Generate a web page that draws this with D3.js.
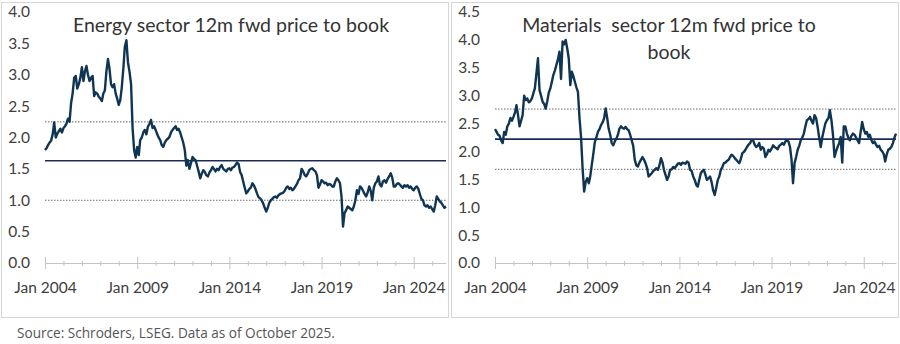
<!DOCTYPE html>
<html>
<head>
<meta charset="utf-8">
<script src="https://cdn.jsdelivr.net/npm/d3@7"></script>
<style>
  body { margin: 0; background: #fff; }
  svg { display: block; }
</style>
</head>
<body>
<script>
// monthly values, Jan 2004 onwards
const startYear = 2004;

const energyPB = [
  1.80, 1.83, 1.88, 1.92, 1.95, 2.05, 2.24, 2.00, 2.06, 2.10, 2.14, 2.08,
  2.15, 2.18, 2.22, 2.30, 2.25, 2.55, 2.70, 2.95, 2.98, 2.78, 2.85, 2.95,
  3.12, 2.90, 3.05, 3.14, 3.00, 2.90, 2.95, 2.98, 2.66, 2.72, 2.70, 2.65,
  2.62, 2.58, 2.70, 2.75, 3.05, 3.25, 3.10, 2.85, 2.80, 2.85, 2.70, 2.62,
  2.52, 2.60, 2.80, 3.10, 3.45, 3.55, 3.20, 3.05, 2.85, 2.15, 1.80, 1.68,
  1.85, 1.72, 1.96, 2.00, 2.08, 2.12, 2.05, 2.17, 2.22, 2.28, 2.15, 2.18,
  2.12, 2.05, 2.00, 1.96, 1.88, 1.85, 1.92, 1.96, 1.98, 2.01, 2.08, 2.12,
  2.15, 2.18, 2.12, 2.14, 2.08, 2.00, 1.92, 1.80, 1.55, 1.64, 1.50, 1.59,
  1.69, 1.66, 1.64, 1.55, 1.46, 1.35, 1.42, 1.48, 1.45, 1.40, 1.38, 1.44,
  1.48, 1.53, 1.50, 1.46, 1.50, 1.48, 1.53, 1.56, 1.50, 1.48, 1.46, 1.50,
  1.51, 1.48, 1.52, 1.53, 1.56, 1.60, 1.58, 1.45, 1.40, 1.30, 1.20, 1.11,
  1.14, 1.18, 1.20, 1.27, 1.24, 1.18, 1.11, 1.05, 1.03, 1.00, 0.95, 0.88,
  0.82, 0.88, 0.96, 1.00, 1.02, 1.05, 1.06, 1.04, 1.08, 1.10, 1.11, 1.12,
  1.15, 1.20, 1.22, 1.18, 1.20, 1.16, 1.18, 1.22, 1.26, 1.32, 1.35, 1.50,
  1.46, 1.40, 1.38, 1.42, 1.48, 1.50, 1.51, 1.48, 1.46, 1.40, 1.20, 1.25,
  1.32, 1.30, 1.27, 1.28, 1.24, 1.26, 1.25, 1.22, 1.22, 1.30, 1.35, 1.32,
  1.27, 1.05, 0.58, 0.80, 0.84, 0.90, 0.88, 0.86, 0.84, 0.90, 1.00, 1.16,
  1.10, 1.22, 1.20, 1.15, 1.10, 1.06, 1.12, 1.22, 1.15, 1.00, 1.20, 1.27,
  1.30, 1.38, 1.25, 1.22, 1.30, 1.32, 1.28, 1.34, 1.38, 1.43, 1.36, 1.22,
  1.22, 1.26, 1.27, 1.25, 1.22, 1.20, 1.24, 1.22, 1.24, 1.20, 1.22, 1.18,
  1.16, 1.20, 1.22, 1.18, 1.10, 1.02, 1.00, 0.92, 0.90, 0.92, 0.88, 0.90,
  0.86, 0.82, 0.92, 1.06, 1.02, 0.98, 0.96, 0.92, 0.88, 0.90
];

const materialsPB = [
  2.40, 2.35, 2.30, 2.28, 2.20, 2.15, 2.35, 2.30, 2.45, 2.50, 2.60, 2.55,
  2.62, 2.70, 2.83, 2.65, 2.45, 2.55, 2.65, 3.00, 2.92, 2.95, 2.88, 2.90,
  2.95, 3.05, 3.13, 3.40, 3.67, 3.10, 3.00, 2.89, 2.85, 2.77, 2.90, 3.05,
  3.13, 3.25, 3.37, 3.45, 3.55, 3.65, 3.79, 3.30, 3.97, 3.92, 4.00, 3.85,
  3.67, 3.19, 3.43, 3.35, 3.25, 3.15, 3.07, 2.60, 2.25, 1.70, 1.28, 1.45,
  1.52, 1.43, 1.55, 1.76, 1.95, 2.17, 2.25, 2.35, 2.40, 2.47, 2.52, 2.59,
  2.77, 2.60, 2.41, 2.30, 2.15, 2.11, 2.18, 2.23, 2.30, 2.41, 2.45, 2.42,
  2.41, 2.44, 2.40, 2.38, 2.30, 2.20, 2.10, 1.85, 1.75, 1.73, 1.80, 1.85,
  1.90, 1.85, 1.79, 1.70, 1.55, 1.58, 1.61, 1.65, 1.67, 1.70, 1.67, 1.75,
  1.88, 1.80, 1.67, 1.58, 1.49, 1.55, 1.67, 1.68, 1.72, 1.70, 1.74, 1.78,
  1.79, 1.76, 1.80, 1.79, 1.78, 1.82, 1.80, 1.67, 1.65, 1.55, 1.49, 1.40,
  1.37, 1.50, 1.61, 1.65, 1.67, 1.58, 1.49, 1.52, 1.55, 1.45, 1.30, 1.22,
  1.35, 1.49, 1.55, 1.67, 1.72, 1.79, 1.80, 1.83, 1.85, 1.90, 1.94, 1.92,
  1.88, 1.85, 1.82, 1.79, 1.86, 1.97, 1.99, 2.03, 2.08, 2.12, 2.15, 2.20,
  2.20, 2.12, 2.08, 2.10, 2.15, 2.03, 2.08, 2.05, 1.90, 1.95, 2.03, 2.00,
  2.05, 2.11, 2.08, 2.06, 2.04, 2.10, 2.12, 2.15, 2.12, 2.18, 2.20, 2.18,
  2.08, 1.85, 1.43, 1.79, 1.90, 2.03, 2.10, 2.20, 2.25, 2.32, 2.45, 2.56,
  2.58, 2.62, 2.55, 2.50, 2.65, 2.60, 2.44, 2.25, 2.08, 2.25, 2.38, 2.50,
  2.56, 2.60, 2.74, 2.56, 2.30, 1.90, 2.00, 2.08, 2.15, 2.26, 1.80, 2.45,
  2.45, 2.32, 2.25, 2.20, 2.28, 2.32, 2.30, 2.25, 2.20, 2.15, 2.35, 2.53,
  2.40, 2.32, 2.35, 2.26, 2.30, 2.20, 2.15, 2.18, 2.12, 2.08, 2.10, 2.03,
  2.00, 1.95, 1.82, 1.95, 2.03, 2.05, 2.08, 2.15, 2.25, 2.32
];

// [-1 sd, average, +1 sd]
const energyBands = [1.0, 1.63, 2.25];
const materialsBands = [1.68, 2.22, 2.76];

const energyTicks = [0, 0.5, 1, 1.5, 2, 2.5, 3, 3.5, 4];
const materialsTicks = [0, 0.5, 1, 1.5, 2, 2.5, 3, 3.5, 4, 4.5];
const labelYears = [2004, 2009, 2014, 2019, 2024];

const width = 900;
const height = 344;

const svg = d3.select("body").append("svg")
  .attr("width", width)
  .attr("height", height)
  .style("font-family", "Lato, 'Open Sans', sans-serif");

const lineColor = "#0f3553";

function drawPanel(left, values, bands, ticks, titleLines) {
  const g = svg.append("g").attr("transform", `translate(${left},0)`);

  g.append("rect")
    .attr("x", 1.5).attr("y", 2.5)
    .attr("width", 447).attr("height", 315)
    .attr("fill", "#fff")
    .attr("stroke", "#d6d6d6");

  const dates = values.map((_, i) => new Date(Date.UTC(startYear, i, 1)));

  const x = d3.scaleUtc()
    .domain([new Date(Date.UTC(2004, 0, 1)), new Date(Date.UTC(2025, 9, 1))])
    .range([45, 446]);

  const y = d3.scaleLinear()
    .domain([0, d3.max(ticks)])
    .range([263, 12]);

  // y axis labels only
  const yAxis = g.append("g")
    .attr("transform", "translate(30,0)")
    .call(d3.axisLeft(y).tickValues(ticks).tickFormat(d3.format(".1f")).tickSize(0).tickPadding(0));
  yAxis.select(".domain").remove();
  yAxis.selectAll("text")
    .attr("font-size", 15.5)
    .attr("font-family", "Lato, sans-serif")
    .attr("fill", "#404040");

  // x axis
  const xAxis = g.append("g")
    .attr("transform", "translate(0,263)")
    .call(d3.axisBottom(x)
      .ticks(d3.utcYear.every(1))
      .tickSizeOuter(0)
      .tickFormat((d) => labelYears.includes(d.getUTCFullYear()) ? "Jan " + d.getUTCFullYear() : ""));
  xAxis.select(".domain").attr("stroke", "#c4c4c4").attr("stroke-width", 1.2);
  xAxis.selectAll(".tick line")
    .attr("stroke", "#c4c4c4")
    .attr("y1", (d) => labelYears.includes(d.getUTCFullYear()) ? -6 : -2)
    .attr("y2", (d) => labelYears.includes(d.getUTCFullYear()) ? 6 : 3);
  xAxis.selectAll(".tick text")
    .attr("y", 19)
    .attr("font-size", 15.5)
    .attr("font-family", "Lato, sans-serif")
    .attr("fill", "#404040");

  // reference lines
  g.selectAll(".band")
    .data(bands)
    .enter()
    .append("line")
    .attr("x1", 45).attr("x2", 446)
    .attr("y1", (d) => y(d)).attr("y2", (d) => y(d))
    .attr("stroke", (d, i) => i === 1 ? "#1c2a5a" : "#6a6a6a")
    .attr("stroke-width", (d, i) => i === 1 ? 1.6 : 1)
    .attr("stroke-dasharray", (d, i) => i === 1 ? null : "1.5,1.5");

  const line = d3.line()
    .x((d, i) => x(dates[i]))
    .y((d) => y(d));

  g.append("path")
    .datum(values)
    .attr("d", line)
    .attr("fill", "none")
    .attr("stroke", lineColor)
    .attr("stroke-width", 2.4)
    .attr("stroke-linejoin", "round");

  const title = g.append("text")
    .attr("text-anchor", "middle")
    .attr("font-size", 19.5)
    .attr("fill", "#333");
  titleLines.forEach((t, i) => {
    title.append("tspan")
      .attr("x", titleLines.length > 1 ? 219 : 231)
      .attr("y", 32 + i * 27)
      .style("white-space", "pre")
      .text(t);
  });
}

drawPanel(0, energyPB, energyBands, energyTicks, ["Energy sector 12m fwd price to book"]);
drawPanel(450, materialsPB, materialsBands, materialsTicks, ["Materials  sector 12m fwd price to", "book"]);

svg.append("text")
  .attr("x", 17)
  .attr("y", 338)
  .attr("font-family", "'Open Sans', sans-serif")
  .attr("font-size", 13.6)
  .attr("fill", "#555")
  .text("Source: Schroders, LSEG. Data as of October 2025.");
</script>
</body>
</html>
